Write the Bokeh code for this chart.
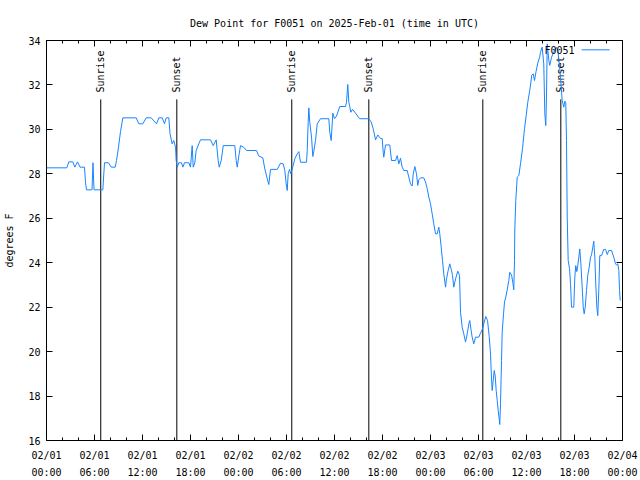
import math
import pandas as pd
from bokeh.plotting import figure
from bokeh.models import Range1d, DatetimeAxis, LinearAxis, FixedTicker, DatetimeTickFormatter
from bokeh.core.properties import value
from bokeh.embed import file_html
from bokeh.resources import INLINE

# ---------------- data ----------------
START = "2025-02-01 00:00"
station = "F0051"

# hours since 2025-02-01 00:00 UTC
hours = [0.0, 2.54, 2.79, 3.29, 3.54, 3.88, 4.19, 4.75, 4.88, 5.0, 5.46, 5.69, 5.81, 5.94, 7.04,
         7.25, 7.75, 8.09, 8.59, 8.75, 9.0, 9.25, 9.54, 11.21, 11.54, 12.04, 12.46, 13.09, 13.75,
         14.04, 14.46, 14.75, 14.96, 15.29, 15.44, 15.71, 15.91, 16.13, 16.21, 16.34, 16.54, 16.88,
         17.04, 17.25, 17.79, 18.0, 18.21, 18.34, 18.54, 18.71, 19.04, 19.25, 20.5, 20.84, 21.21,
         21.46, 21.59, 21.84, 22.09, 23.54, 23.71, 23.84, 24.04, 24.25, 24.63, 25.0, 26.25, 26.54,
         27.04, 27.29, 27.59, 27.79, 28.0, 28.84, 29.25, 29.59, 29.79, 29.96, 30.09, 30.21, 30.38,
         30.54, 30.71, 31.04, 31.34, 31.54, 31.75, 32.5, 32.59, 32.71, 32.79, 32.91, 33.13, 33.29,
         33.41, 33.63, 33.84, 34.25, 35.29, 35.41, 35.59, 35.79, 36.0, 36.25, 36.66, 37.38, 37.5,
         37.66, 37.79, 37.91, 38.04, 38.25, 38.63, 39.13, 40.29, 40.59, 40.84, 41.13, 41.41, 41.75,
         41.96, 42.09, 42.16, 42.38, 42.91, 43.13, 43.63, 43.84, 44.04, 44.25, 44.46, 44.66, 45.09,
         45.29, 45.5, 45.71, 45.84, 46.04, 46.25, 46.41, 46.54, 46.75, 47.16, 47.38, 47.59, 47.79,
         48.0, 48.21, 48.41, 48.63, 48.84, 49.04, 49.16, 49.34, 49.5, 49.66, 49.88, 50.0, 50.21,
         50.41, 50.59, 50.75, 50.91, 51.13, 51.41, 51.63, 51.75, 51.96, 52.16, 52.38, 52.59, 52.79,
         52.91, 53.06, 53.21, 53.41, 53.63, 54.04, 54.25, 54.46, 54.66, 54.91, 55.13, 55.34, 55.5,
         55.63, 55.71, 55.84, 55.96, 56.09, 56.21, 56.34, 56.46, 56.59, 56.66, 56.75, 56.88, 56.96,
         57.13, 57.25, 57.41, 57.59, 57.79, 57.91, 58.13, 58.29, 58.41, 58.5, 58.54, 58.66, 58.84,
         59.04, 59.25, 59.5, 59.75, 59.96, 60.16, 60.41, 60.66, 60.84, 61.0, 61.19, 61.41, 61.66,
         61.75, 61.96, 62.16, 62.29, 62.41, 62.5, 62.59, 62.79, 62.91, 63.13, 63.41, 63.71, 63.91,
         64.09, 64.25, 64.46, 64.66, 64.79, 64.91, 65.0, 65.09, 65.21, 65.38, 65.5, 65.63, 65.91,
         66.04, 66.16, 66.29, 66.41, 66.54, 66.66, 66.79, 66.96, 67.09, 67.21, 67.34, 67.5, 67.66,
         67.84, 68.0, 68.13, 68.29, 68.41, 68.54, 68.66, 68.79, 68.91, 69.04, 69.16, 69.38, 69.66,
         69.88, 70.09, 70.29, 70.63, 70.91, 71.13, 71.25, 71.41, 71.54, 71.63, 71.71]

dewpoint_f = [28.27, 28.27, 28.54, 28.54, 28.3, 28.54, 28.3, 28.3, 27.6, 27.28, 27.28, 27.28, 28.5,
              27.28, 27.28, 28.5, 28.5, 28.3, 28.3, 28.6, 29.2, 29.9, 30.52, 30.52, 30.25, 30.25,
              30.52, 30.52, 30.25, 30.52, 30.52, 30.25, 30.52, 30.52, 29.8, 29.35, 29.5, 29.2, 28.6,
              28.3, 28.5, 28.5, 28.3, 28.5, 28.5, 28.3, 29.27, 28.3, 28.5, 29.05, 29.35, 29.53,
              29.53, 29.27, 29.53, 28.6, 28.3, 28.6, 29.27, 29.27, 28.6, 28.3, 28.8, 29.27, 29.2,
              29.05, 29.05, 28.8, 28.72, 28.22, 27.78, 27.52, 28.2, 28.2, 28.48, 28.45, 28.15,
              27.55, 27.25, 28.0, 28.2, 28.0, 28.2, 28.68, 28.9, 29.0, 28.52, 28.52, 29.05, 30.32,
              30.97, 30.32, 29.65, 28.78, 29.0, 29.5, 30.25, 30.48, 30.48, 29.87, 29.5, 30.73,
              30.48, 30.6, 31.03, 31.03, 31.22, 32.02, 31.22, 31.03, 30.77, 30.9, 30.73, 30.48,
              30.48, 30.33, 30.03, 29.53, 29.75, 29.59, 29.59, 28.97, 28.75, 29.3, 29.3, 28.6, 28.6,
              28.82, 28.45, 28.7, 28.3, 28.15, 28.15, 27.85, 27.55, 27.45, 28.0, 28.33, 28.0, 27.48,
              27.73, 27.82, 27.82, 27.63, 27.33, 26.95, 26.65, 26.2, 25.75, 25.3, 25.3, 25.6, 25.3,
              24.7, 24.1, 23.5, 22.9, 23.27, 23.65, 23.95, 23.7, 23.43, 22.9, 23.27, 23.62, 23.43,
              21.77, 21.1, 20.8, 20.43, 20.8, 21.25, 21.4, 21.0, 20.65, 20.35, 20.65, 20.65, 20.83,
              20.98, 21.25, 21.58, 21.4, 20.68, 19.9, 18.77, 18.25, 18.7, 19.15, 18.9, 18.25, 17.8,
              17.35, 16.97, 16.72, 17.65, 19.6, 20.87, 21.7, 22.23, 22.45, 22.78, 23.2, 23.57,
              23.45, 23.12, 22.78, 24.1, 25.52, 26.8, 27.85, 27.92, 28.45, 29.13, 30.03, 30.62,
              31.22, 31.75, 32.43, 32.5, 32.2, 32.6, 32.98, 33.28, 33.47, 33.7, 32.95, 30.7, 30.17,
              31.5, 33.85, 33.1, 32.88, 33.25, 33.47, 33.7, 33.55, 33.0, 32.35, 31.3, 31.0, 31.27,
              31.2, 29.5, 26.05, 24.1, 23.73, 23.05, 22.0, 22.0, 23.35, 23.87, 23.6, 23.87, 24.25,
              24.62, 24.0, 22.9, 22.0, 21.7, 22.0, 22.75, 23.43, 23.8, 24.25, 24.35, 24.7, 24.97,
              24.25, 23.05, 22.0, 21.62, 22.8, 24.32, 24.32, 24.6, 24.6, 24.37, 24.55, 24.55, 24.25,
              23.95, 23.9, 23.95, 23.65, 22.75, 22.3]

# sunrise / sunset event times (hours since start)
sun_hours = [6.78, 16.29, 30.66, 40.29, 54.54, 64.29]
sun_labels = ["Sunrise", "Sunset", "Sunrise", "Sunset", "Sunrise", "Sunset"]

y_ticks = [16, 18, 20, 22, 24, 26, 28, 30, 32, 34]
x_tick_hours = list(range(0, 73, 6))
x_minor_hours = list(range(0, 73, 2))

# ---------------- build ----------------
t0 = pd.Timestamp(START)
times = [t0 + pd.Timedelta(hours=h) for h in hours]
sun_times = [t0 + pd.Timedelta(hours=h) for h in sun_hours]
to_ms = lambda h: (t0 + pd.Timedelta(hours=h)).value / 1e6
major_ms = [to_ms(h) for h in x_tick_hours]
minor_ms = [to_ms(h) for h in x_minor_hours]

FONT = "DejaVu Sans Mono"
FS = "10px"
BLUE = "#1884ff"

p = figure(width=640, height=480, output_backend="svg", toolbar_location=None,
           x_axis_type=None, y_axis_location=None,
           x_range=Range1d(t0, t0 + pd.Timedelta(hours=72)), y_range=Range1d(16, 34),
           min_border_left=46, min_border_right=18, min_border_top=40, min_border_bottom=40,
           title="Dew Point for %s on 2025-Feb-01 (time in UTC)" % station)
p.grid.visible = False
p.outline_line_color = "black"
p.outline_line_width = 1
p.background_fill_color = "white"
p.border_fill_color = "white"

p.title.text_font = FONT
p.title.text_font_size = FS
p.title.text_font_style = "normal"
p.title.text_color = "black"
p.title.align = "center"
p.title.standoff = 23

fmt = "%m/%d\n%H:%M"
dt_fmt = DatetimeTickFormatter(hours=fmt, hourmin=fmt, days=fmt, minutes=fmt, minsec=fmt,
                               seconds=fmt, milliseconds=fmt, months=fmt, years=fmt)

def style(ax, labels=True):
    ax.axis_line_color = None
    ax.major_tick_in = 6
    ax.major_tick_out = 0
    ax.minor_tick_in = 3
    ax.minor_tick_out = 0
    ax.major_tick_line_color = "black"
    ax.minor_tick_line_color = "black"
    ax.major_label_text_font = FONT
    if labels:
        ax.major_label_text_font_size = FS
        ax.major_label_text_color = "black"
        ax.major_label_standoff = 6
    else:
        ax.major_label_text_font_size = "1px"
        ax.major_label_text_color = None
        ax.major_label_standoff = 0

xb = DatetimeAxis(ticker=FixedTicker(ticks=major_ms, minor_ticks=minor_ms), formatter=dt_fmt)
style(xb)
xb.major_label_standoff = 9
xb.major_label_text_line_height = 1.55
p.add_layout(xb, "below")
xt = DatetimeAxis(ticker=FixedTicker(ticks=major_ms, minor_ticks=minor_ms), formatter=dt_fmt)
style(xt, labels=False)
p.add_layout(xt, "above")

yl = LinearAxis(ticker=FixedTicker(ticks=y_ticks))
style(yl)
yl.minor_tick_line_color = None
yl.axis_label = "degrees F"
yl.axis_label_text_font = FONT
yl.axis_label_text_font_size = FS
yl.axis_label_text_font_style = "normal"
yl.axis_label_text_color = "black"
yl.axis_label_standoff = 10
p.add_layout(yl, "left")
yr = LinearAxis(ticker=FixedTicker(ticks=y_ticks))
style(yr, labels=False)
yr.minor_tick_line_color = None
p.add_layout(yr, "right")

# sunrise / sunset markers
LINE_TOP = 31.35
TEXT_Y = 31.66
p.segment(x0=sun_times, x1=sun_times, y0=[16] * len(sun_times), y1=[LINE_TOP] * len(sun_times),
          line_color="black", line_width=1)
p.text(x=sun_times, y=[TEXT_Y] * len(sun_times), text=sun_labels, angle=math.pi / 2,
       text_align="left", text_baseline="middle", text_font=value(FONT), text_font_size=FS,
       text_color="black")

# data line
p.line(times, dewpoint_f, line_color=BLUE, line_width=1)

# legend (gnuplot style: label then sample)
p.text(x=[t0 + pd.Timedelta(hours=66.0)], y=[33.55], text=[station], text_align="right",
       text_baseline="middle", text_font=value(FONT), text_font_size=FS, text_color="black")
p.segment(x0=[t0 + pd.Timedelta(hours=66.9)], x1=[t0 + pd.Timedelta(hours=70.4)],
          y0=[33.58], y1=[33.58], line_color=BLUE, line_width=1)

open("out.html", "w").write(file_html(p, INLINE))
